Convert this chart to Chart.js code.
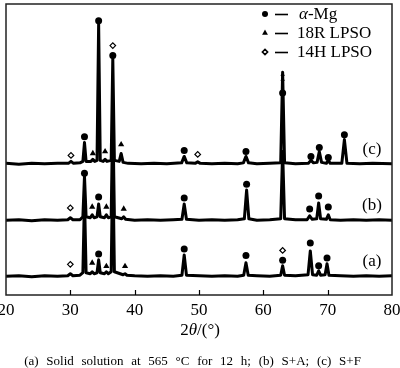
<!DOCTYPE html>
<html><head><meta charset="utf-8">
<script src="https://cdn.jsdelivr.net/npm/chart.js@4.4.1/dist/chart.umd.min.js"></script>
<style>
html,body{margin:0;padding:0;background:#fff;}
#wrap{position:relative;width:400px;height:368px;overflow:hidden;font-family:"Liberation Serif","Times New Roman",serif;color:#000;}
canvas{position:absolute;left:0;top:0;}
#xtitle{position:absolute;left:0;width:400px;text-align:center;top:320px;font-size:17px;line-height:20px;}
#caption{position:absolute;left:0;width:385px;text-align:center;top:353px;font-size:13px;line-height:15px;word-spacing:4.5px;white-space:nowrap;}
</style></head><body>
<div id="wrap"><canvas id="c" width="400" height="368" style="width:400px;height:368px"></canvas>
<div id="xtitle">2<i>θ</i>/(°)</div>
<div id="caption">(a) Solid solution at 565 °C for 12 h; (b) S+A; (c) S+F</div>
</div>
<script>
// ---- data (2θ in degrees, intensity in arbitrary units above each pattern's baseline) ----
const xTicks = [20, 30, 40, 50, 60, 70, 80];
const sampleLabels = ['(a)', '(b)', '(c)'];
const baselineOffsets = [18.5, 75, 132];

const twoThetaA = [20,22,24,26,28,29.6,30.0,30.4,31.5,31.95,32.2,32.45,33.1,33.4,33.7,34.15,34.4,34.65,35.3,35.6,35.9,36.35,36.6,36.85,38.2,38.5,38.8,40,42,44,46,47.35,47.7,48.05,50,52,54,56,56.95,57.3,57.65,59,61,62.7,63.0,63.3,65,66.95,67.3,67.65,68.3,68.6,68.9,69.6,69.9,70.2,72,74,76,78,80];
const intensityA = [0.5,1,0,1,0.5,1,3,1,1.5,4,80,4,3,5,3,4,17,4,3,5,3,5,120,5,2,3,1.5,1,0.5,1,0.5,1.5,22,1.5,1,0.5,1,0.5,1.5,14,1.5,1,0.5,1.5,11,1.5,1,2,26,2,1.5,6,1.5,2,13,1.5,1,0.5,1,0.5,1];

const twoThetaB = [20,22,24,26,28,29.6,30.0,30.4,31.5,31.95,32.2,32.45,33.1,33.4,33.7,34.15,34.4,34.65,35.3,35.6,35.9,36.35,36.6,36.85,38,38.3,38.6,40,42,44,46,47.35,47.7,48.05,50,52,54,56,57.05,57.4,57.75,59,61,62.7,63.0,63.3,65,66.8,67.2,67.6,68.3,68.6,68.9,69.8,70.1,70.4,72,74,76,78,80];
const intensityB = [0.5,1,0,1,0.5,1,3,1,1,4,45,4,3,6,3,4,17,4,3,6,3,4,110,4,2,4,1.5,0.5,1,0.5,1,1.5,17,1.5,0.5,1,0.5,1,2,31,2,0.5,1,2,70,2,1,1,5,1.5,2,18,2,1.5,6,1,0.5,1,0.5,1,0.5];

const twoThetaC = [20,22,24,26,28,29.7,30.1,30.5,31.5,31.95,32.2,32.45,33.2,33.5,33.8,34.15,34.4,34.65,35.1,35.4,35.7,36.35,36.6,36.85,37.6,37.9,38.2,39,41,43,45,47.3,47.7,48.1,49.4,49.8,50.2,52,54,56,56.9,57.3,57.7,59,61,62.7,63.0,63.3,65,67,67.4,67.8,68.35,68.7,69.05,69.8,70.1,70.4,72.2,72.6,73.0,75,77,80];
const intensityC = [1,0,1,0.5,1,1,3,1,1.5,3,22,3,3,5,3,4,142,4,3,5,3,4,107,4,3,11,2,1,0.5,1,0.5,1.5,8,1.5,1,2.5,1,0.5,1,0.5,1.5,8,1.5,0.5,1,1.5,93,1.5,0.5,1,4,1.5,2,13,2,1,4,1,1,25,1,0.5,1,0.5];

// phase markers: 2θ position and level above baseline
const alphaMgA = [34.4,47.7,57.3,63.0,67.3,68.6,69.9];
const alphaMgALevel = [23,28,21.5,16.5,34,11,19];
const lpso18RA = [33.4,35.6,38.5];
const lpso18RALevel = [14,10.5,10.5];
const lpso14HA = [30.0,63.0];
const lpso14HALevel = [12.5,26.5];

const alphaMgB = [32.2,34.4,47.7,57.4,67.2,68.6,70.1];
const alphaMgBLevel = [48,24,23,37,12,25,14];
const lpso18RB = [33.4,35.6,38.3];
const lpso18RBLevel = [14,14,12];
const lpso14HB = [30.0];
const lpso14HBLevel = [13];

const alphaMgC = [32.2,34.4,36.6,47.7,57.3,63.0,67.4,68.7,70.1,72.6];
const alphaMgCLevel = [28,145,110,14,13,72,8,17,7,30];
const lpso18RC = [33.5,35.4,37.9];
const lpso18RCLevel = [11,13,20];
const lpso14HC = [30.1,36.6,49.8];
const lpso14HCLevel = [9,120,10];
// small marks sitting on the 63° peak of (c)
const onPeakMarksC = [63.0, 63.0];
const onPeakMarksCLevel = [85, 90];

const legendLabels = ['α-Mg', '18R LPSO', '14H LPSO'];

// ---- build ----
const pts = (xs, ys, off) => xs.map((x, i) => ({x: x, y: ys[i] + off}));
const traceDs = (xs, ys, off) => ({
  data: pts(xs, ys, off), borderColor: '#000', borderWidth: 3, pointRadius: 0,
  tension: 0, borderJoinStyle: 'round', borderCapStyle: 'round', fill: false, order: 2
});
const markerStyle = {
  circle: {pointStyle: 'circle', pointRadius: 3.5, pointBackgroundColor: '#000', pointBorderColor: '#000', pointBorderWidth: 0},
  tri: {pointStyle: 'triangle', pointRadius: 3.6, pointBackgroundColor: '#000', pointBorderColor: '#000', pointBorderWidth: 0},
  dia: {pointStyle: 'rectRot', pointRadius: 2.8, pointBackgroundColor: '#fff', pointBorderColor: '#000', pointBorderWidth: 1.2},
  small: {pointStyle: 'rectRot', pointRadius: 2.2, pointBackgroundColor: '#000', pointBorderColor: '#000', pointBorderWidth: 0}
};
const markerDs = (xs, ys, off, st) => Object.assign({
  data: pts(xs, ys, off), showLine: false, order: 0, pointHoverRadius: 0
}, markerStyle[st]);

const datasets = [
  traceDs(twoThetaA, intensityA, baselineOffsets[0]),
  traceDs(twoThetaB, intensityB, baselineOffsets[1]),
  traceDs(twoThetaC, intensityC, baselineOffsets[2]),
  markerDs(alphaMgA, alphaMgALevel, baselineOffsets[0], 'circle'),
  markerDs(lpso18RA, lpso18RALevel, baselineOffsets[0], 'tri'),
  markerDs(lpso14HA, lpso14HALevel, baselineOffsets[0], 'dia'),
  markerDs(alphaMgB, alphaMgBLevel, baselineOffsets[1], 'circle'),
  markerDs(lpso18RB, lpso18RBLevel, baselineOffsets[1], 'tri'),
  markerDs(lpso14HB, lpso14HBLevel, baselineOffsets[1], 'dia'),
  markerDs(alphaMgC, alphaMgCLevel, baselineOffsets[2], 'circle'),
  markerDs(lpso18RC, lpso18RCLevel, baselineOffsets[2], 'tri'),
  markerDs(lpso14HC, lpso14HCLevel, baselineOffsets[2], 'dia'),
  markerDs(onPeakMarksC, onPeakMarksCLevel, baselineOffsets[2], 'small')
];

const SERIF = '"Liberation Serif","Times New Roman",serif';

const decor = {
  id: 'decor',
  afterDatasetsDraw(chart) {
    const {ctx, chartArea: a, scales} = chart;
    const xs = scales.x, ys = scales.y;
    ctx.save();
    // frame
    ctx.strokeStyle = '#222';
    ctx.lineWidth = 1.5;
    ctx.strokeRect(a.left, a.top, a.right - a.left, a.bottom - a.top);
    // inward ticks on bottom axis
    ctx.lineWidth = 1.2;
    ctx.strokeStyle = '#000';
    xTicks.forEach(v => {
      if (v <= xs.min || v >= xs.max) return;
      const px = Math.round(xs.getPixelForValue(v)) + 0.5;
      ctx.beginPath(); ctx.moveTo(px, a.bottom); ctx.lineTo(px, a.bottom - 5); ctx.stroke();
    });
    // sample labels
    ctx.fillStyle = '#000';
    ctx.font = '17px ' + SERIF;
    ctx.textAlign = 'center';
    ctx.textBaseline = 'middle';
    sampleLabels.forEach((t, i) => {
      ctx.fillText(t, a.right - 20, ys.getPixelForValue(baselineOffsets[i] + 15));
    });
    // legend
    const styles = [markerStyle.circle, markerStyle.tri, markerStyle.dia];
    const sizes = [3, 3.4, 2.6];
    const rowY = [14, 33, 52];
    const mx = 265;
    styles.forEach((s, i) => {
      ctx.fillStyle = s.pointBackgroundColor;
      ctx.strokeStyle = '#000';
      Chart.helpers.drawPoint(ctx, {pointStyle: s.pointStyle, radius: sizes[i], borderWidth: s.pointBorderWidth, rotation: 0}, mx, rowY[i]);
      ctx.strokeStyle = '#000';
      ctx.lineWidth = 1.6;
      ctx.beginPath(); ctx.moveTo(275, rowY[i] + 0.5); ctx.lineTo(288, rowY[i] + 0.5); ctx.stroke();
      ctx.fillStyle = '#000';
      ctx.textAlign = 'left';
      ctx.textBaseline = 'middle';
      const label = legendLabels[i];
      let tx = 297;
      if (label.charAt(0) === 'α') {
        tx = 299;
        ctx.font = 'italic 17px ' + SERIF;
        ctx.fillText('α', tx, rowY[i] + 1);
        tx += ctx.measureText('α').width;
        ctx.font = '17px ' + SERIF;
        ctx.fillText(label.slice(1), tx, rowY[i] + 1);
      } else {
        ctx.font = '17px ' + SERIF;
        ctx.fillText(label, tx, rowY[i] + 1);
      }
    });
    ctx.restore();
  }
};

new Chart(document.getElementById('c'), {
  type: 'line',
  data: {datasets: datasets},
  options: {
    responsive: false, animation: false, devicePixelRatio: 1,
    layout: {padding: {left: 6, right: 8, top: 1, bottom: 0}},
    plugins: {legend: {display: false}, tooltip: {enabled: false}},
    events: [],
    scales: {
      x: {
        type: 'linear', min: 20, max: 80,
        afterBuildTicks: s => { s.ticks = xTicks.map(v => ({value: v})); },
        ticks: {color: '#000', font: {family: SERIF, size: 17}, padding: 5, maxRotation: 0, autoSkip: false},
        grid: {display: false, drawTicks: false},
        border: {display: false},
        afterFit: s => { s.height = 73; s.paddingLeft = 0; s.paddingRight = 0; }
      },
      y: {type: 'linear', min: 0, max: 294, display: false}
    }
  },
  plugins: [decor]
});
</script>
</body></html>
